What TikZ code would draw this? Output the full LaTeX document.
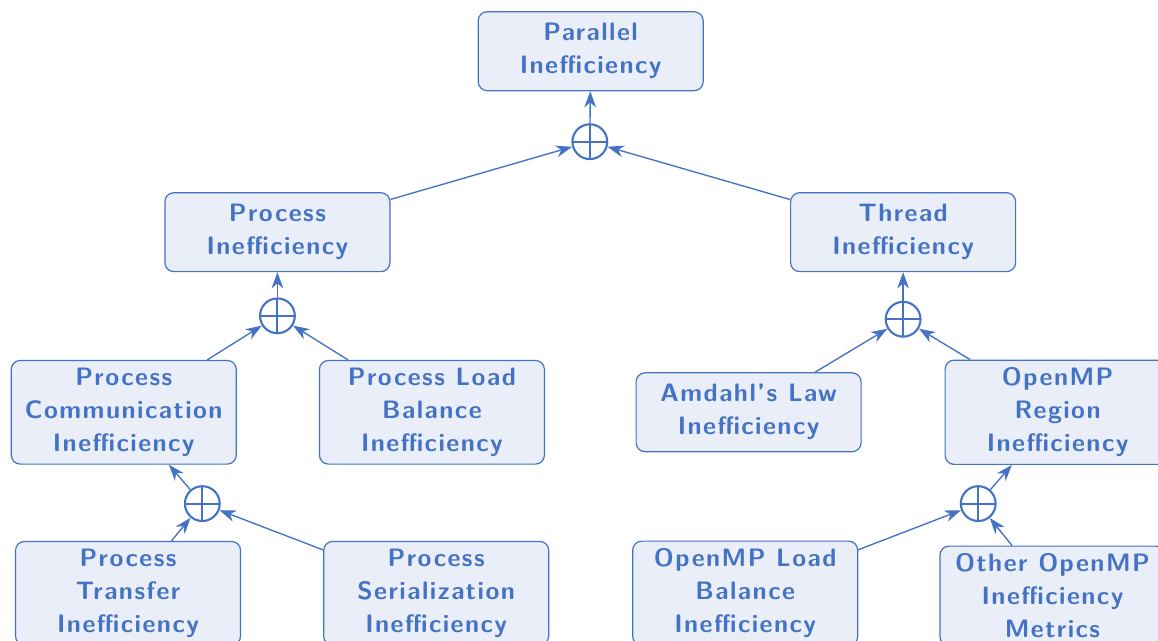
\documentclass[tikz,border=0pt]{standalone}
\usepackage{fontspec}
\usetikzlibrary{arrows.meta}

\newfontfamily\metricfont{lmsans10-bold.otf}[LetterSpace=5.8, Ligatures=TeX]
\definecolor{effblue}{HTML}{4472C4}

\tikzset{
	metric/.style={draw=effblue, fill=effblue!12, text=effblue, rounded corners=3pt,
		align=center, font=\fontsize{8.4}{11}\metricfont, inner sep=2.5pt, line width=0.4pt,
		minimum width=75pt, minimum height=26.3pt},
	oplus/.style={draw=effblue, circle, minimum size=11.6pt, inner sep=0pt, line width=0.7pt,
		path picture={\draw[effblue, line width=0.7pt]
			(path picture bounding box.north) -- (path picture bounding box.south)
			(path picture bounding box.west) -- (path picture bounding box.east);}},
	flow/.style={draw=effblue, line width=0.45pt, -{Stealth[length=5.4pt,width=3.9pt,inset=1.7pt]}},
}

\begin{document}
\begin{tikzpicture}
		\clip (0,0) rectangle (13.566,-7.509);

		\node[metric] (par) at (6.92,-0.60) {Parallel\\Inefficiency};
		\node[oplus] (topplus) at (6.91,-1.66) {};

		\node[metric] (proc) at (3.25,-2.72) {Process\\Inefficiency};
		\node[metric] (thr) at (10.58,-2.72) {Thread\\Inefficiency};
		\node[oplus] (procplus) at (3.25,-3.70) {};
		\node[oplus] (thrplus) at (10.58,-3.74) {};

		\node[metric] (comm) at (1.45,-4.83) {Process\\Communication\\Inefficiency};
		\node[metric] (plb) at (5.06,-4.83) {Process Load\\Balance\\Inefficiency};
		\node[metric] (amd) at (8.77,-4.83) {Amdahl’s Law\\Inefficiency};
		\node[metric] (reg) at (12.39,-4.83) {OpenMP\\Region\\Inefficiency};
		\node[oplus] (commplus) at (2.37,-5.90) {};
		\node[oplus] (ompplus) at (11.46,-5.90) {};

		\node[metric] (trans) at (1.50,-6.95) {Process\\Transfer\\Inefficiency};
		\node[metric] (ser) at (5.11,-6.95) {Process\\Serialization\\Inefficiency};
		\node[metric] (olb) at (8.73,-6.95) {OpenMP Load\\Balance\\Inefficiency};
		\node[metric] (other) at (12.33,-6.98) {Other OpenMP\\Inefficiency\\Metrics};

		\draw[flow] (proc) -- (topplus);
		\draw[flow] (thr) -- (topplus);
		\draw[flow] (topplus) -- (par);

		\draw[flow] (comm) -- (procplus);
		\draw[flow] (plb) -- (procplus);
		\draw[flow] (procplus) -- (proc);

		\draw[flow] (amd) -- (thrplus);
		\draw[flow] (reg) -- (thrplus);
		\draw[flow] (thrplus) -- (thr);

		\draw[flow] (trans) -- (commplus);
		\draw[flow] (ser) -- (commplus);
		\draw[flow] (commplus) -- (comm);

		\draw[flow] (olb) -- (ompplus);
		\draw[flow] (other) -- (ompplus);
		\draw[flow] (ompplus) -- (reg);
	\end{tikzpicture}
\end{document}
